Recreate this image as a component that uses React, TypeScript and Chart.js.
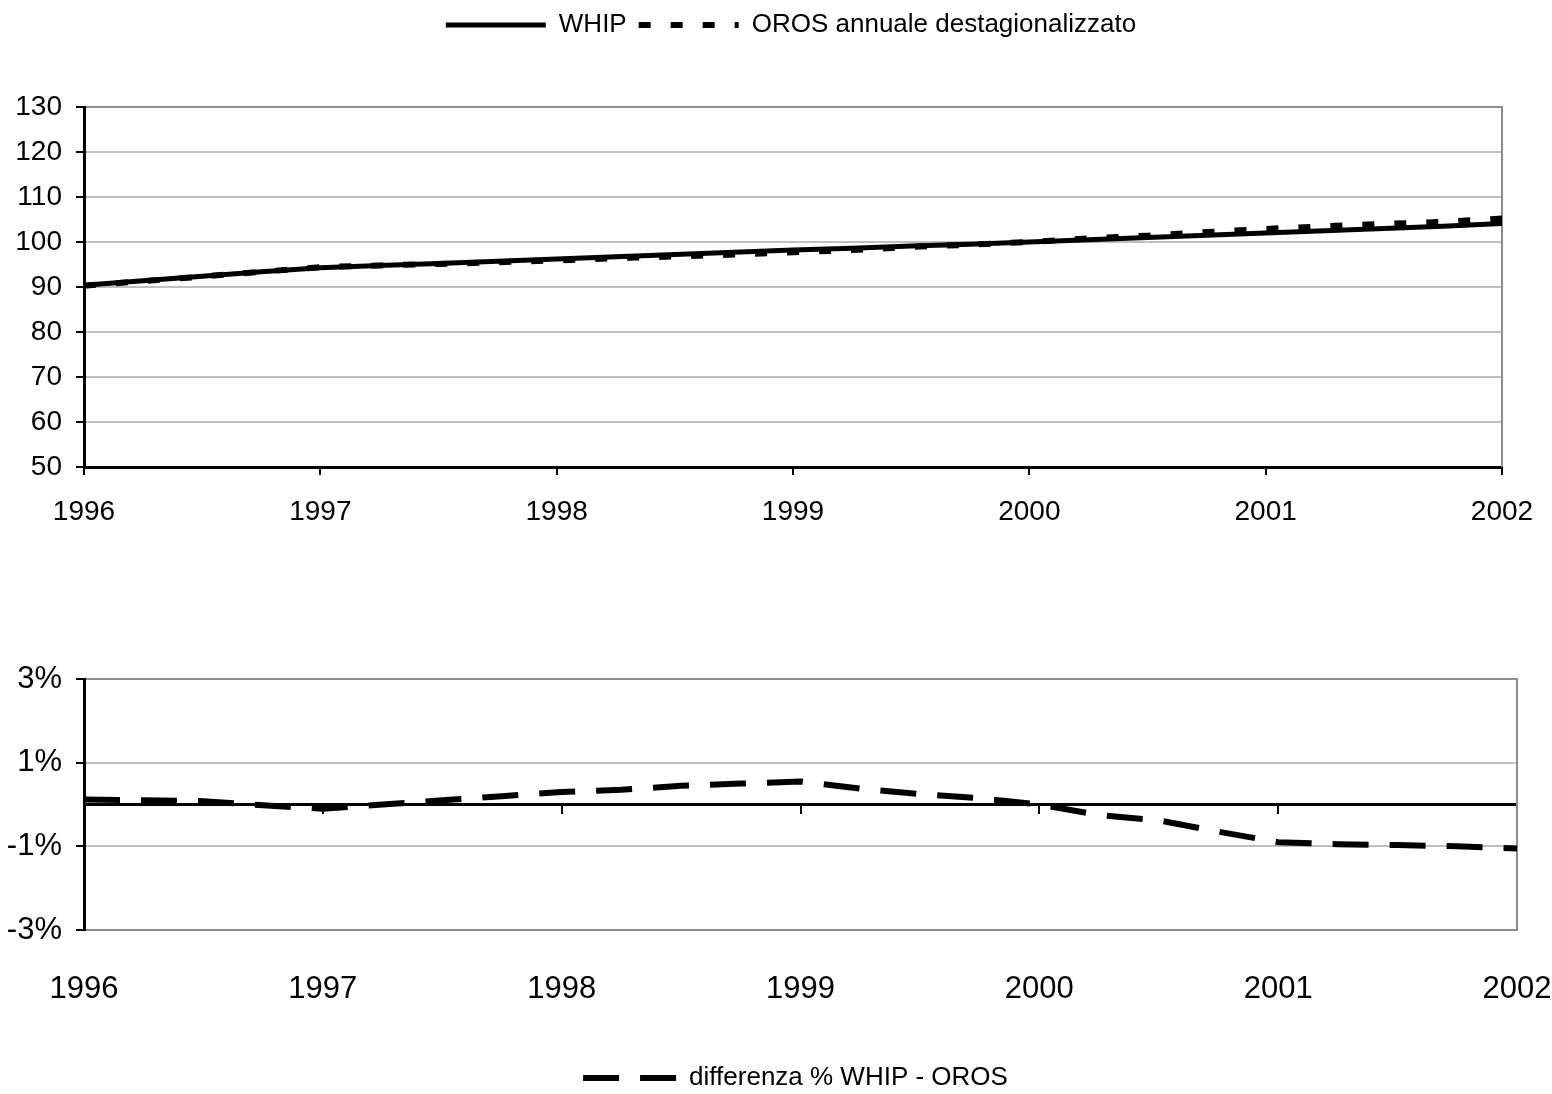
import React, { useEffect, useRef } from 'react';
import { Chart, registerables } from 'chart.js';

Chart.register(...registerables);

// ---- data ----
const periods = [
  1996, 1996.25, 1996.5, 1996.75,
  1997, 1997.25, 1997.5, 1997.75,
  1998, 1998.25, 1998.5, 1998.75,
  1999, 1999.25, 1999.5, 1999.75,
  2000, 2000.25, 2000.5, 2000.75,
  2001, 2001.25, 2001.5, 2001.75,
  2002,
];

const whip = [
  90.4, 91.4, 92.4, 93.4,
  94.3, 94.8, 95.2, 95.7,
  96.2, 96.7, 97.2, 97.7,
  98.2, 98.6, 99.1, 99.5,
  100.0, 100.5, 101.0, 101.5,
  102.0, 102.5, 103.0, 103.5,
  104.1,
];

const oros = [
  90.3, 91.3, 92.3, 93.4,
  94.4, 94.8, 95.1, 95.5,
  95.9, 96.4, 96.8, 97.2,
  97.7, 98.2, 98.9, 99.4,
  100.0, 100.8, 101.4, 102.2,
  102.9, 103.5, 104.0, 104.5,
  105.2,
];

const diffPct = [
  0.12, 0.1, 0.08, -0.02,
  -0.1, 0.0, 0.1, 0.2,
  0.3, 0.35, 0.45, 0.5,
  0.55, 0.38, 0.25, 0.15,
  0.0, -0.25, -0.38, -0.65,
  -0.9, -0.95, -0.97, -1.0,
  -1.05,
];

const yearMin = 1996;
const yearMax = 2002;
const topSeriesLabels = ['WHIP', 'OROS annuale destagionalizzato'];
const diffLabel = 'differenza % WHIP - OROS';

const FAMILY = "'Liberation Sans Narrow', 'Liberation Sans', Arial, sans-serif";

const frame = (sides: string[]) => ({
  id: 'plotFrame',
  beforeDatasetsDraw(chart: any) {
    const { ctx, chartArea: a } = chart;
    ctx.save();
    ctx.strokeStyle = '#8c8c8c';
    ctx.lineWidth = 2;
    ctx.beginPath();
    if (sides.includes('top')) {
      ctx.moveTo(a.left + 2, a.top);
      ctx.lineTo(a.right + 1, a.top);
    }
    if (sides.includes('right')) {
      ctx.moveTo(a.right, a.top);
      ctx.lineTo(a.right, a.bottom);
    }
    if (sides.includes('bottom')) {
      ctx.moveTo(a.left + 2, a.bottom);
      ctx.lineTo(a.right + 1, a.bottom);
    }
    ctx.stroke();
    ctx.restore();
  },
});

// moves the (library-laid-out) legend box sideways, as in the reference
const shiftLegend = (dx: number) => ({
  id: 'shiftLegend',
  afterLayout(chart: any) {
    const lg = chart.legend;
    if (lg) {
      lg.left += dx;
      lg.right += dx;
    }
  },
});

const yearCallback = (v: any) => String(v);

const legendItems = (chart: any) =>
  chart.data.datasets.map((ds: any, i: number) => ({
    text: ds.label,
    fillStyle: '#000',
    strokeStyle: '#000',
    fontColor: '#000',
    lineWidth: ds.borderWidth,
    lineDash: ds.borderDash || [],
    lineDashOffset: 0,
    lineCap: 'butt',
    pointStyle: 'line',
    hidden: false,
    datasetIndex: i,
  }));

export default function App() {
  const topRef = useRef<HTMLCanvasElement | null>(null);
  const botRef = useRef<HTMLCanvasElement | null>(null);

  useEffect(() => {
    const topChart = new Chart(topRef.current as HTMLCanvasElement, {
      type: 'line',
      data: {
        datasets: [
          {
            label: topSeriesLabels[0],
            data: periods.map((x, i) => ({ x, y: whip[i] })),
            borderColor: '#000',
            backgroundColor: '#000',
            borderWidth: 5,
            pointRadius: 0,
            tension: 0,
          },
          {
            label: topSeriesLabels[1],
            data: periods.map((x, i) => ({ x, y: oros[i] })),
            borderColor: '#000',
            backgroundColor: '#000',
            borderWidth: 6,
            borderDash: [12, 20],
            pointRadius: 0,
            tension: 0,
          },
        ],
      },
      options: {
        responsive: false,
        animation: false,
        devicePixelRatio: 1,
        layout: { padding: { left: 0, right: 50, top: 0, bottom: 0 } },
        plugins: {
          legend: {
            position: 'top',
            weight: 3000,
            labels: {
              font: { family: FAMILY, size: 26 },
              color: '#000',
              padding: 12,
              usePointStyle: true,
              pointStyle: 'line',
              pointStyleWidth: 100,
              generateLabels: legendItems,
            },
          } as any,
          title: {
            display: true,
            text: '',
            weight: 2000,
            padding: { top: 58, bottom: 0 },
            font: { size: 1, lineHeight: 1 },
          } as any,
          tooltip: { enabled: false },
        },
        scales: {
          x: {
            type: 'linear',
            min: yearMin,
            max: yearMax,
            afterFit: (s: any) => {
              s.height = 93;
              s.paddingLeft = 0;
              s.paddingRight = 0;
            },
            ticks: {
              stepSize: 1,
              callback: yearCallback,
              font: { family: FAMILY, size: 28 },
              color: '#000',
              padding: 20,
              maxRotation: 0,
            },
            grid: {
              display: true,
              drawOnChartArea: false,
              drawTicks: true,
              tickLength: 8,
              tickColor: '#000',
              lineWidth: 2,
            },
            border: { display: true, color: '#000', width: 3 },
          },
          y: {
            min: 50,
            max: 130,
            afterFit: (s: any) => { s.width = 84; },
            ticks: {
              stepSize: 10,
              font: { family: FAMILY, size: 28 },
              color: '#000',
              padding: 14,
            },
            grid: { color: '#c0c0c0', lineWidth: 2, tickColor: '#000', tickLength: 8 },
            border: { color: '#000', width: 3 },
          },
        },
      } as any,
      plugins: [frame(['top', 'right']), shiftLegend(40)],
    });

    const botChart = new Chart(botRef.current as HTMLCanvasElement, {
      type: 'line',
      data: {
        datasets: [
          {
            label: diffLabel,
            data: periods.map((x, i) => ({ x, y: diffPct[i] })),
            borderColor: '#000',
            backgroundColor: '#000',
            borderWidth: 6,
            borderDash: [36, 21],
            pointRadius: 0,
            tension: 0,
            xAxisID: 'x',
            yAxisID: 'y',
          },
        ],
      },
      options: {
        responsive: false,
        animation: false,
        devicePixelRatio: 1,
        layout: { padding: { left: 0, right: 35, top: 119, bottom: 4 } },
        plugins: {
          legend: {
            position: 'bottom',
            labels: {
              font: { family: FAMILY, size: 26 },
              color: '#000',
              padding: 10,
              usePointStyle: true,
              pointStyle: 'line',
              pointStyleWidth: 93,
              generateLabels: legendItems,
            },
          } as any,
          tooltip: { enabled: false },
        },
        scales: {
          x: {
            type: 'linear',
            position: 'bottom',
            min: yearMin,
            max: yearMax,
            afterFit: (s: any) => {
              s.height = 125;
              s.paddingLeft = 0;
              s.paddingRight = 0;
            },
            ticks: {
              stepSize: 1,
              callback: yearCallback,
              font: { family: FAMILY, size: 31 },
              color: '#000',
              padding: 0,
              maxRotation: 0,
            },
            grid: { display: false, drawTicks: true, tickLength: 41 },
            border: { display: false },
          },
          x0: {
            type: 'linear',
            axis: 'x',
            position: { y: 0 },
            min: yearMin,
            max: yearMax,
            ticks: { display: false, stepSize: 1 },
            grid: {
              display: true,
              drawOnChartArea: false,
              drawTicks: true,
              tickLength: 8,
              tickColor: '#000',
              lineWidth: 2,
            },
            border: { display: true, color: '#000', width: 3 },
          },
          y: {
            min: -3,
            max: 3,
            afterFit: (s: any) => { s.width = 84; },
            ticks: {
              stepSize: 2,
              callback: (v: any) => `${v}%`,
              font: { family: FAMILY, size: 31 },
              color: '#000',
              padding: 14,
            },
            grid: { color: '#c0c0c0', lineWidth: 2, tickColor: '#000', tickLength: 8 },
            border: { color: '#000', width: 3 },
          },
        },
      } as any,
      plugins: [frame(['top', 'right', 'bottom']), shiftLegend(37)],
    });

    return () => {
      topChart.destroy();
      botChart.destroy();
    };
  }, []);

  return (
    <div
      style={{
        position: 'absolute',
        left: 0,
        top: 0,
        width: 1552,
        height: 1094,
        overflow: 'hidden',
        background: '#fff',
      }}
    >
      <canvas
        ref={topRef}
        width={1552}
        height={560}
        style={{ position: 'absolute', left: 0, top: 0, width: 1552, height: 560 }}
      />
      <canvas
        ref={botRef}
        width={1552}
        height={545}
        style={{ position: 'absolute', left: 0, top: 560, width: 1552, height: 545 }}
      />
    </div>
  );
}
